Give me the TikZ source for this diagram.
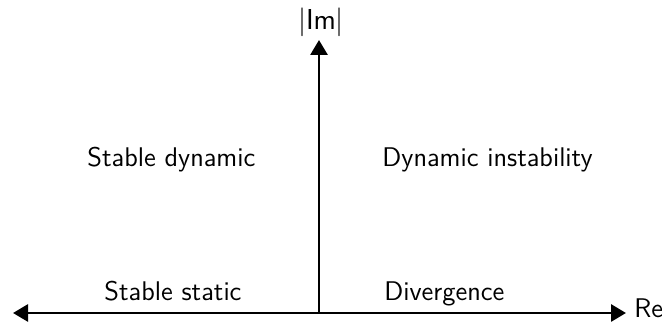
\documentclass[tikz,border=0pt]{standalone}
\usetikzlibrary{arrows.meta}

\begin{document}
\begin{tikzpicture}[x=0.5pt,y=0.5pt,font=\sffamily\fontsize{13.5}{16}\selectfont,
  axis/.style={line width=1.4pt,-{Triangle[length=7.5pt,width=8.5pt]}},
  lbl/.style={anchor=base west,inner sep=0pt}]
\useasboundingbox (0,0) rectangle (662,325);
\coordinate (O) at (319,12);
\coordinate (W) at (13,12);
\coordinate (E) at (626,12);
\coordinate (N) at (319,285);
\draw[axis] (O)--(N);
\draw[axis] (O)--(W);
\draw[axis] (O)--(E);
\node[anchor=base,inner sep=0pt] (im) at (321,295) {$|\mathsf{Im}|$};
\node[lbl] (re) at (634,7) {Re};
\node[lbl] (sd) at (87,158) {Stable dynamic};
\node[lbl] (di) at (382,158) {Dynamic instability};
\node[lbl] (ss) at (104,24) {Stable static};
\node[lbl] (dv) at (384,24) {Divergence};
\end{tikzpicture}
\end{document}
